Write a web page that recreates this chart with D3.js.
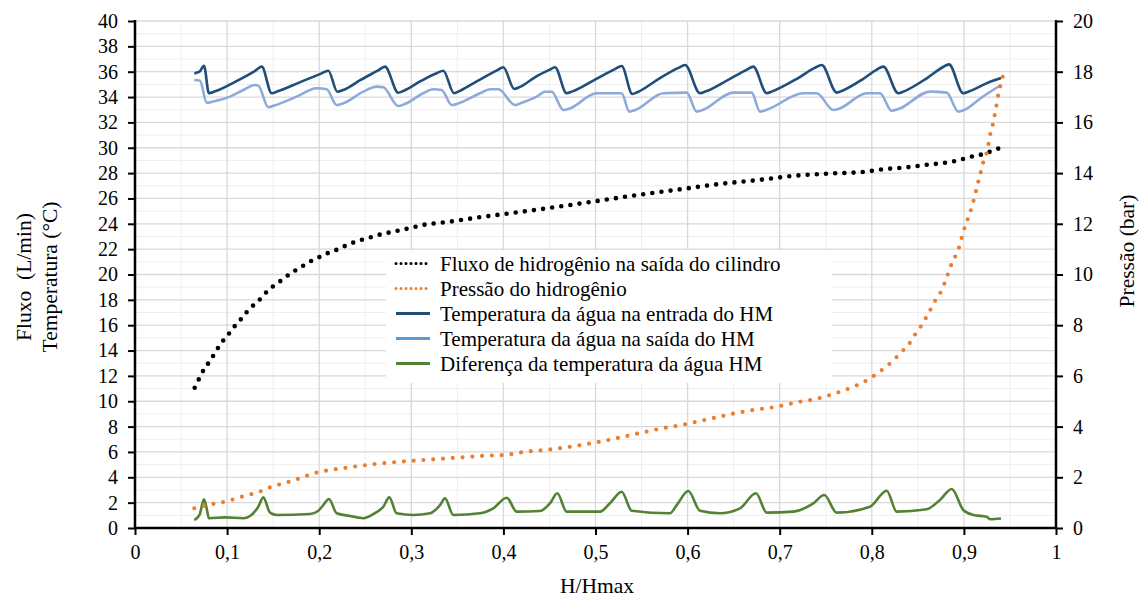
<!DOCTYPE html>
<html>
<head>
<meta charset="utf-8">
<script src="https://cdn.jsdelivr.net/npm/d3@7"></script>
<style>
  body { margin: 0; background: #fff; }
  text { font-family: "Liberation Serif", "Times New Roman", serif; fill: #000; }
</style>
</head>
<body>
<svg id="chart" width="1143" height="597"></svg>
<script>
// ---- data -------------------------------------------------------------
// Hydrogen flow at cylinder outlet (L/min) vs H/Hmax
const flowH = [0.0648,0.0698,0.0749,0.0814,0.0872,0.093,0.1002,0.1068,0.114,0.1213,0.1292,0.1375,0.1448,0.1538,0.1621,0.1708,0.1802,0.1893,0.199,0.2088,0.2182,0.228,0.2378,0.2479,0.2581,0.2685,0.2787,0.2888,0.2993,0.3087,0.34,0.3736,0.42,0.4595,0.50,0.5453,0.59,0.6312,0.68,0.717,0.75,0.7926,0.8143,0.8368,0.8578,0.8795,0.8903,0.9005,0.911,0.921,0.9313,0.941];
const flowValues = [11.07,11.81,12.52,13.18,13.86,14.54,15.15,15.80,16.39,17.04,17.62,18.17,18.78,19.25,19.72,20.17,20.59,20.99,21.33,21.67,21.93,22.25,22.54,22.78,22.98,23.20,23.35,23.51,23.67,23.85,24.15,24.51,24.95,25.35,25.78,26.27,26.70,27.11,27.48,27.80,27.95,28.11,28.32,28.45,28.64,28.82,28.95,29.14,29.35,29.50,29.77,30.04];

// Hydrogen pressure (bar, right axis)
const pressureH = [0.0644,0.0749,0.0861,0.0966,0.1068,0.1166,0.1268,0.1366,0.1464,0.1561,0.1659,0.1756,0.1854,0.1963,0.2071,0.22,0.24,0.26,0.28,0.30,0.32,0.34,0.36,0.38,0.4017,0.4242,0.4459,0.4676,0.4886,0.5096,0.5302,0.5512,0.5719,0.5928,0.6135,0.6344,0.655,0.676,0.6974,0.7184,0.7394,0.76,0.7799,0.798,0.807,0.8154,0.824,0.8317,0.8397,0.8458,0.8523,0.863,0.8686,0.8748,0.883,0.8867,0.8918,0.8958,0.8986,0.9019,0.9059,0.9091,0.912,0.9146,0.9175,0.92,0.924,0.9265,0.9283,0.9313,0.9334,0.9356,0.9374,0.94,0.943];
const pressureValues = [0.78,0.87,0.96,1.03,1.13,1.24,1.34,1.45,1.60,1.71,1.81,1.92,2.05,2.18,2.26,2.33,2.43,2.52,2.59,2.65,2.70,2.75,2.80,2.85,2.88,3.01,3.08,3.18,3.30,3.44,3.60,3.77,3.93,4.06,4.22,4.39,4.55,4.68,4.79,4.96,5.09,5.31,5.57,5.90,6.13,6.36,6.63,6.93,7.22,7.57,7.90,8.57,8.95,9.30,10.05,10.43,10.80,11.19,11.59,11.97,12.35,12.73,13.12,13.53,13.91,14.31,14.70,15.11,15.48,15.90,16.29,16.71,17.11,17.50,17.91];

// Water temperature at HM inlet (°C)
const inletH = [0.0644,0.0700,0.0749,0.0803,0.0870,0.1086,0.1300,0.1376,0.1484,0.1550,0.1800,0.2020,0.2099,0.2197,0.2260,0.2450,0.2640,0.2714,0.2859,0.2920,0.3100,0.3280,0.3347,0.3464,0.3530,0.3750,0.3930,0.3999,0.4118,0.4180,0.4350,0.4500,0.4560,0.4687,0.4750,0.5000,0.5210,0.5284,0.5400,0.5460,0.5700,0.5900,0.5972,0.6135,0.6200,0.6450,0.6640,0.6713,0.6859,0.6920,0.7200,0.7380,0.7456,0.7619,0.7680,0.7900,0.8050,0.8125,0.8288,0.8350,0.8600,0.8770,0.8838,0.8993,0.9060,0.9250,0.9403];
const inletTemp = [35.87,36.00,36.47,34.30,34.45,35.20,36.05,36.40,34.30,34.45,35.20,35.85,36.08,34.42,34.55,35.35,36.10,36.40,34.34,34.50,35.25,35.90,36.08,34.30,34.50,35.40,36.10,36.35,34.64,34.80,35.60,36.15,36.35,34.30,34.45,35.40,36.20,36.45,34.24,34.40,35.50,36.30,36.53,34.30,34.45,35.40,36.15,36.40,34.30,34.45,35.50,36.30,36.53,34.35,34.50,35.40,36.15,36.40,34.30,34.45,35.50,36.35,36.58,34.30,34.45,35.10,35.50];

// Water temperature at HM outlet (°C)
const outletH = [0.0644,0.0706,0.0779,0.0850,0.1031,0.1176,0.1303,0.1339,0.1448,0.1520,0.1756,0.1973,0.2081,0.2190,0.2260,0.2479,0.2624,0.2696,0.2859,0.2930,0.3130,0.3239,0.3330,0.3439,0.3510,0.3746,0.3855,0.3945,0.4126,0.4200,0.4362,0.4452,0.4524,0.4650,0.4720,0.5013,0.5284,0.5367,0.5440,0.5736,0.5990,0.6099,0.6170,0.6496,0.6696,0.6786,0.6860,0.7256,0.7402,0.7582,0.7650,0.7945,0.8089,0.8216,0.8290,0.8632,0.8813,0.8939,0.9010,0.9200,0.9403];
const outletTemp = [35.35,35.29,33.55,33.65,34.03,34.56,34.95,34.90,33.19,33.35,34.03,34.69,34.61,33.37,33.50,34.43,34.82,34.77,33.29,33.45,34.30,34.61,34.56,33.37,33.50,34.30,34.61,34.61,33.37,33.55,34.03,34.42,34.42,32.98,33.10,34.30,34.30,32.85,33.00,34.30,34.35,32.85,33.00,34.35,34.35,32.85,33.00,34.30,34.30,32.98,33.10,34.30,34.30,32.92,33.05,34.43,34.35,32.85,33.00,34.00,34.95];

// Water temperature difference across the HM (°C)
const diffH = [0.0644,0.0700,0.0749,0.0777,0.0803,0.0977,0.1176,0.1249,0.1339,0.1393,0.1466,0.1539,0.1900,0.1987,0.2045,0.2106,0.2190,0.2334,0.2479,0.2606,0.2696,0.2761,0.2841,0.3022,0.3203,0.3312,0.3366,0.3456,0.3746,0.3890,0.4036,0.4144,0.4397,0.4506,0.4585,0.4687,0.5049,0.5157,0.5284,0.5393,0.5809,0.5882,0.6008,0.6135,0.6352,0.6569,0.6743,0.6859,0.7148,0.7365,0.7484,0.7619,0.7980,0.8162,0.8270,0.8596,0.8740,0.8868,0.8993,0.9102,0.9248,0.9283,0.9403];
const diffTemp = [0.63,1.03,2.26,1.58,0.77,0.84,0.77,0.95,1.68,2.42,1.21,1.03,1.10,1.34,1.81,2.29,1.16,0.95,0.77,1.18,1.68,2.42,1.16,1.03,1.16,1.81,2.34,1.03,1.16,1.55,2.39,1.29,1.34,1.95,2.74,1.29,1.29,1.95,2.86,1.36,1.16,1.81,2.92,1.36,1.16,1.55,2.74,1.21,1.29,1.95,2.60,1.21,1.68,2.94,1.29,1.48,2.21,3.08,1.42,1.03,0.89,0.69,0.75];

// Axis ticks and labels
const xTickValues = [0,0.1,0.2,0.3,0.4,0.5,0.6,0.7,0.8,0.9,1];
const xTickLabels = ["0","0,1","0,2","0,3","0,4","0,5","0,6","0,7","0,8","0,9","1"];
const leftTicks = [0,2,4,6,8,10,12,14,16,18,20,22,24,26,28,30,32,34,36,38,40];
const rightTicks = [0,2,4,6,8,10,12,14,16,18,20];

const legendLabels = [
  "Fluxo de hidrogênio na saída do cilindro",
  "Pressão do hidrogênio",
  "Temperatura da água na entrada do HM",
  "Temperatura da água na saída do HM",
  "Diferença da temperatura da água HM"
];

// ---- layout -------------------------------------------------------------
const W = 1143, H = 597;
const plot = { left: 135, right: 1056, top: 21, bottom: 528 };

const svg = d3.select("#chart");
svg.append("rect").attr("width", W).attr("height", H).attr("fill", "#fff");

const x = d3.scaleLinear().domain([0, 1]).range([plot.left, plot.right]);
const yL = d3.scaleLinear().domain([0, 40]).range([plot.bottom, plot.top]);
const yR = d3.scaleLinear().domain([0, 20]).range([plot.bottom, plot.top]);

// ---- gridlines ----------------------------------------------------------
const grid = svg.append("g");
const minorY = d3.range(1, 40, 2);
const minorX = [0.05,0.15,0.25,0.35,0.45,0.55,0.65,0.75,0.85,0.95];
grid.selectAll(".gy-minor").data(minorY).join("line")
  .attr("x1", plot.left).attr("x2", plot.right)
  .attr("y1", d => yL(d)).attr("y2", d => yL(d))
  .attr("stroke", "#eeeeee").attr("stroke-width", 1);
grid.selectAll(".gx-minor").data(minorX).join("line")
  .attr("y1", plot.top).attr("y2", plot.bottom)
  .attr("x1", d => x(d)).attr("x2", d => x(d))
  .attr("stroke", "#eeeeee").attr("stroke-width", 1);
grid.selectAll(".gy-major").data(leftTicks.filter(d => d > 0)).join("line")
  .attr("x1", plot.left).attr("x2", plot.right)
  .attr("y1", d => yL(d)).attr("y2", d => yL(d))
  .attr("stroke", "#d9d9d9").attr("stroke-width", 1.3);
grid.selectAll(".gx-major").data(xTickValues.filter(d => d > 0 && d < 1)).join("line")
  .attr("y1", plot.top).attr("y2", plot.bottom)
  .attr("x1", d => x(d)).attr("x2", d => x(d))
  .attr("stroke", "#d9d9d9").attr("stroke-width", 1.3);

// ---- series -------------------------------------------------------------
const pts = (xs, ys) => xs.map((v, i) => [v, ys[i]]);
const lineL = d3.line().x(d => x(d[0])).y(d => yL(d[1])).curve(d3.curveMonotoneX);
const lineR = d3.line().x(d => x(d[0])).y(d => yR(d[1])).curve(d3.curveMonotoneX);

const series = svg.append("g");
series.append("path").datum(pts(diffH, diffTemp)).attr("d", lineL)
  .attr("fill", "none").attr("stroke", "#548235").attr("stroke-width", 2.6)
  .attr("stroke-linejoin", "round");
series.append("path").datum(pts(outletH, outletTemp)).attr("d", lineL)
  .attr("fill", "none").attr("stroke", "#8eaadb").attr("stroke-width", 2.6)
  .attr("stroke-linejoin", "round");
series.append("path").datum(pts(inletH, inletTemp)).attr("d", lineL)
  .attr("fill", "none").attr("stroke", "#1f4e79").attr("stroke-width", 2.6)
  .attr("stroke-linejoin", "round");
series.append("path").datum(pts(flowH, flowValues)).attr("d", lineL)
  .attr("fill", "none").attr("stroke", "#000").attr("stroke-width", 4.6)
  .attr("stroke-linecap", "round").attr("stroke-dasharray", "0 9.2");
series.append("path").datum(pts(pressureH, pressureValues)).attr("d", lineR)
  .attr("fill", "none").attr("stroke", "#ed7d31").attr("stroke-width", 4.2)
  .attr("stroke-linecap", "round").attr("stroke-dasharray", "0 9.8");

// ---- legend -------------------------------------------------------------
const legendStyles = [
  { color: "#000", dash: "0 5", width: 3, cap: "round" },
  { color: "#ed7d31", dash: "0 5", width: 3, cap: "round" },
  { color: "#1f4e79", dash: null, width: 3, cap: "butt" },
  { color: "#5b9bd5", dash: null, width: 3, cap: "butt" },
  { color: "#548235", dash: null, width: 3, cap: "butt" }
];
const legend = svg.append("g");
legend.append("rect").attr("x", 386).attr("y", 250).attr("width", 446).attr("height", 133)
  .attr("fill", "#fff");
const rows = legend.selectAll(".row").data(legendLabels).join("g")
  .attr("transform", (d, i) => `translate(0, ${263.5 + i * 25})`);
rows.append("line")
  .attr("x1", 396).attr("x2", 430).attr("y1", 0).attr("y2", 0)
  .attr("stroke", (d, i) => legendStyles[i].color)
  .attr("stroke-width", (d, i) => legendStyles[i].width)
  .attr("stroke-linecap", (d, i) => legendStyles[i].cap)
  .attr("stroke-dasharray", (d, i) => legendStyles[i].dash);
rows.append("text").attr("x", 440).attr("y", 0).attr("dy", "0.35em")
  .attr("font-size", 21).text(d => d);

// ---- axes ---------------------------------------------------------------
const fontSize = 20;
const styleAxis = g => {
  g.select(".domain").remove();
  g.selectAll(".tick line").attr("stroke", "#000").attr("stroke-width", 2);
  g.selectAll(".tick text").attr("font-size", fontSize)
    .attr("font-family", "'Liberation Serif', 'Times New Roman', serif").attr("fill", "#000");
};

svg.append("g").attr("transform", `translate(${plot.left},0)`)
  .call(d3.axisLeft(yL).tickValues(leftTicks).tickFormat(d3.format("d")).tickSize(7).tickPadding(10))
  .call(styleAxis);
svg.append("g").attr("transform", `translate(${plot.right},0)`)
  .call(d3.axisRight(yR).tickValues(rightTicks).tickFormat(d3.format("d")).tickSize(7).tickPadding(10))
  .call(styleAxis);
svg.append("g").attr("transform", `translate(0,${plot.bottom})`)
  .call(d3.axisBottom(x).tickValues(xTickValues).tickFormat((d, i) => xTickLabels[i]).tickSize(7).tickPadding(10))
  .call(styleAxis);

// axis lines
const axisLines = svg.append("g").attr("stroke", "#000").attr("stroke-width", 2.5);
axisLines.append("line").attr("x1", plot.left).attr("x2", plot.left).attr("y1", plot.top - 1).attr("y2", plot.bottom + 1);
axisLines.append("line").attr("x1", plot.right).attr("x2", plot.right).attr("y1", plot.top - 1).attr("y2", plot.bottom + 1);
axisLines.append("line").attr("x1", plot.left - 1).attr("x2", plot.right + 1).attr("y1", plot.bottom).attr("y2", plot.bottom);

// ---- titles -------------------------------------------------------------
const titleSize = 21.5;
svg.append("text").attr("transform", "translate(24,277) rotate(-90)")
  .attr("text-anchor", "middle").attr("dominant-baseline", "central")
  .attr("font-size", titleSize).style("white-space", "pre").text("Fluxo  (L/min)");
svg.append("text").attr("transform", "translate(50,277) rotate(-90)")
  .attr("text-anchor", "middle").attr("dominant-baseline", "central")
  .attr("font-size", titleSize).text("Temperatura (°C)");
svg.append("text").attr("transform", "translate(1127,251) rotate(-90)")
  .attr("text-anchor", "middle").attr("dominant-baseline", "central")
  .attr("font-size", titleSize).text("Pressão (bar)");
svg.append("text").attr("x", 597).attr("y", 586)
  .attr("text-anchor", "middle").attr("dominant-baseline", "central")
  .attr("font-size", titleSize).text("H/Hmax");
</script>
</body>
</html>
